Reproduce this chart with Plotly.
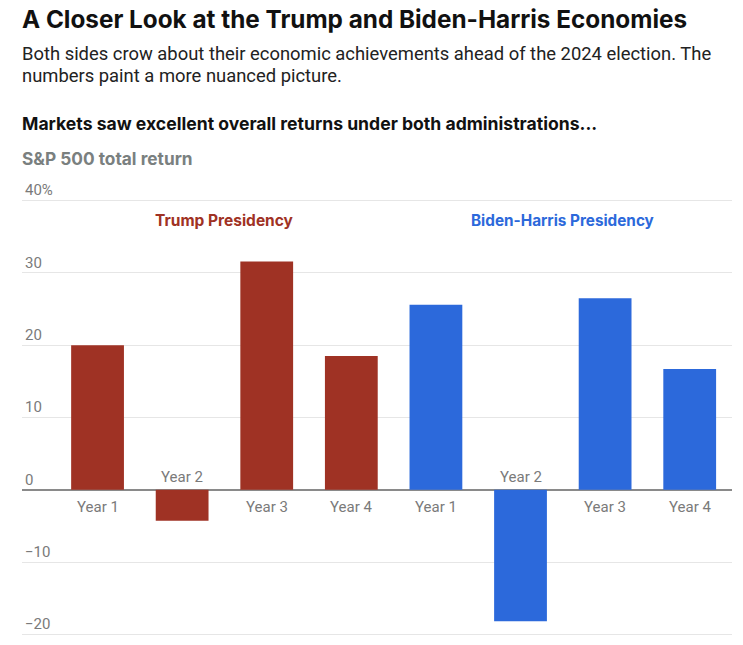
import plotly.graph_objects as go

years = ["Year 1", "Year 2", "Year 3", "Year 4"]
trump_returns = [20.0, -4.3, 31.6, 18.5]
biden_returns = [25.6, -18.2, 26.5, 16.7]
trump_cats = ["Trump " + y for y in years]
biden_cats = ["Biden " + y for y in years]
tick_vals = [40, 30, 20, 10, 0, -10, -20]
tick_text = ["40%", "30", "20", "10", "0", "\u221210", "\u221220"]

RED = "#9f3224"
BLUE = "#2c69db"
GRAY = "#7a7a7a"

fig = go.Figure()
fig.add_trace(go.Bar(x=trump_cats, y=trump_returns, marker=dict(color=RED, line=dict(width=0)),
                     name="Trump", hoverinfo="y"))
fig.add_trace(go.Bar(x=biden_cats, y=biden_returns, marker=dict(color=BLUE, line=dict(width=0)),
                     name="Biden-Harris", hoverinfo="y"))

W, H = 743, 645
T, B = 165, 9
PH = H - T - B
SCALE = 7.227  # px per unit
y_top = 40 + (200.7 - T) / SCALE
y_bot = -20 - (H - B - 634.3) / SCALE

def py(pix):
    return (H - B - pix) / PH

annotations = []
for cats, vals in ((trump_cats, trump_returns), (biden_cats, biden_returns)):
    for c, v, yr in zip(cats, vals, years):
        annotations.append(dict(x=c, y=0, xref="x", yref="y", text=yr, showarrow=False,
                                yanchor="top" if v >= 0 else "bottom",
                                yshift=-6 if v >= 0 else 2,
                                font=dict(family="Roboto", size=15, color=GRAY)))

annotations.append(dict(x=1.5, y=37.2, xref="x", yref="y", text="<b>Trump Presidency</b>",
                        showarrow=False, font=dict(family="Inter", size=15.5, color=RED)))
annotations.append(dict(x=5.5, y=37.2, xref="x", yref="y", text="<b>Biden-Harris Presidency</b>",
                        showarrow=False, font=dict(family="Inter", size=15.3, color=BLUE)))

texts = [
    ("<b>A Closer Look at the Trump and Biden-Harris Economies</b>", 19, 24.3, "#111111", "Inter"),
    ("Both sides crow about their economic achievements ahead of the 2024 election. The", 53, 18.4, "#222222", "Roboto"),
    ("numbers paint a more nuanced picture.", 75, 18.4, "#222222", "Roboto"),
    ("<b>Markets saw excellent overall returns under both administrations...</b>", 123, 17.6, "#111111", "Inter"),
    ("<b>S&P 500 total return</b>", 158, 17.3, "#7a807f", "Inter"),
]
for t, ypix, sz, col, fam in texts:
    annotations.append(dict(x=0, y=py(ypix), xref="paper", yref="paper", text=t, showarrow=False,
                            xanchor="left", yanchor="middle", align="left", xshift=-2,
                            font=dict(family=fam, size=sz, color=col)))

fig.update_layout(
    width=W, height=H,
    margin=dict(l=22, r=11, t=T, b=B),
    plot_bgcolor="white", paper_bgcolor="white",
    barmode="relative", bargap=0.376,
    showlegend=False,
    annotations=annotations,
    xaxis=dict(type="category", categoryorder="array", categoryarray=trump_cats + biden_cats,
               range=[-0.893, 7.5], showticklabels=False, showgrid=False, zeroline=False,
               ticks="", fixedrange=True),
    yaxis=dict(range=[y_bot, y_top], tickvals=tick_vals, ticktext=tick_text,
               ticklabelposition="inside top", showgrid=True, gridcolor="#e6e6e6", gridwidth=1,
               zeroline=True, zerolinecolor="#8a8a8a", zerolinewidth=1.5,
               tickfont=dict(family="Roboto", size=15, color=GRAY), ticks="", fixedrange=True),
)

fig.write_html("out.html")
